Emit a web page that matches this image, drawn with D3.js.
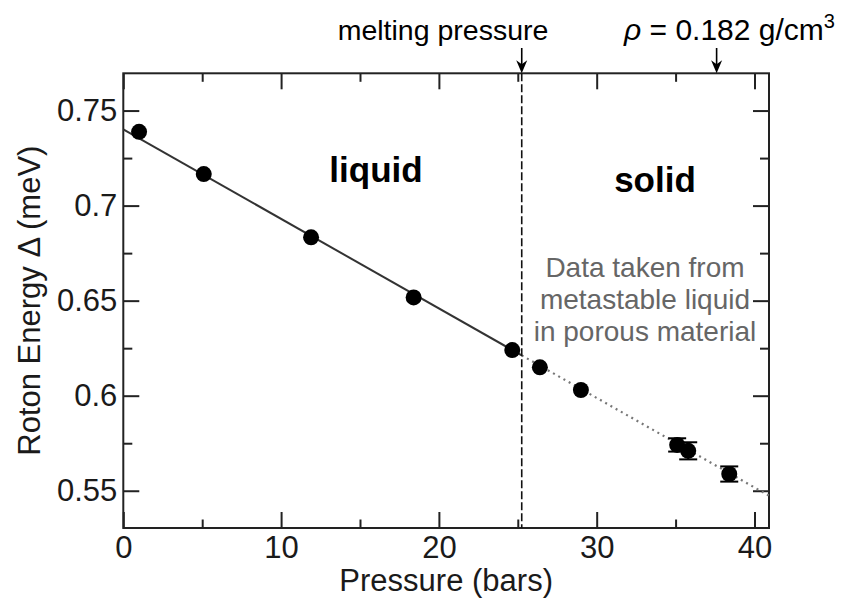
<!DOCTYPE html>
<html>
<head>
<meta charset="utf-8">
<script src="https://d3js.org/d3.v7.min.js"></script>
<style>
  body { margin: 0; background: #fff; }
  text { font-family: "Liberation Sans", Arial, Helvetica, sans-serif; }
</style>
</head>
<body>
<script>
// measured points: pressure (bars) vs roton energy (meV)
const pressure  = [1.0, 5.1, 11.9, 18.4, 24.65, 26.4, 29.0, 35.1, 35.8, 38.4];
const energy    = [0.7388, 0.7166, 0.6833, 0.6517, 0.624, 0.6149, 0.603, 0.5741, 0.571, 0.5588];
const energyErr = [0, 0, 0, 0, 0, 0, 0, 0.0035, 0.0045, 0.004];

// linear fit, solid in liquid range, dotted past melting
const liquidFitP = [0, 25.25];
const liquidFitE = [0.7401, 0.6212];
const metaFitP   = [25.25, 40.92];
const metaFitE   = [0.6212, 0.5474];

const meltingP = 25.25;
const densityP = 37.6;

const xMajor = [0, 10, 20, 30, 40];
const xMinor = [5, 15, 25, 35];
const yMajor = [0.55, 0.6, 0.65, 0.7, 0.75];
const yMinor = [0.575, 0.625, 0.675, 0.725];

const W = 846, H = 598;
const mLeft = 123.3, mRight = 769, mTop = 73.3, mBottom = 528;

const svg = d3.select('body').append('svg')
    .attr('width', W)
    .attr('height', H);

const x = d3.scaleLinear().domain([0, 40.92]).range([mLeft, mRight]);
const y = d3.scaleLinear().domain([0.5304, 0.7696]).range([mBottom, mTop]);

const fmt = d => String(+d.toFixed(3));

function axis(gen, ticks, size, labels, pad, tx, ty) {
    let g = svg.append('g')
        .attr('transform', `translate(${tx},${ty})`)
        .call(gen.tickValues(ticks).tickSize(-size)
            .tickPadding(pad)
            .tickFormat(labels ? fmt : ''));
    g.select('.domain').remove();
    g.selectAll('line').attr('stroke', '#222').attr('stroke-width', 2);
    g.attr('font-size', 31).attr('font-family', '"Liberation Sans", Arial, sans-serif');
    g.selectAll('text').attr('fill', '#1a1a1a');
    return g;
}

// bottom / top (ticks point inward)
axis(d3.axisBottom(x), xMajor, 16, true, 8, 0, mBottom);
axis(d3.axisBottom(x), xMinor, 8.5, false, 0, 0, mBottom);
axis(d3.axisTop(x), xMajor, 16, false, 0, 0, mTop);
axis(d3.axisTop(x), xMinor, 8.5, false, 0, 0, mTop);
// left / right
axis(d3.axisLeft(y), yMajor, 16, true, 6, mLeft, 0);
axis(d3.axisLeft(y), yMinor, 9, false, 0, mLeft, 0);
axis(d3.axisRight(y), yMajor, 16, false, 0, mRight, 0);
axis(d3.axisRight(y), yMinor, 9, false, 0, mRight, 0);

// frame
svg.append('rect')
    .attr('x', mLeft).attr('y', mTop)
    .attr('width', mRight - mLeft).attr('height', mBottom - mTop)
    .attr('fill', 'none').attr('stroke', '#222').attr('stroke-width', 2);

// fit lines
const line = d3.line().x(d => x(d[0])).y(d => y(d[1]));
svg.append('path')
    .datum(d3.zip(liquidFitP, liquidFitE))
    .attr('d', line)
    .attr('fill', 'none').attr('stroke', '#333').attr('stroke-width', 2);
svg.append('path')
    .datum(d3.zip(metaFitP, metaFitE))
    .attr('d', line)
    .attr('fill', 'none').attr('stroke', '#777').attr('stroke-width', 2.2)
    .attr('stroke-dasharray', '2,4');

// melting pressure
svg.append('line')
    .attr('x1', x(meltingP)).attr('x2', x(meltingP))
    .attr('y1', mTop).attr('y2', mBottom)
    .attr('stroke', '#111').attr('stroke-width', 1.6)
    .attr('stroke-dasharray', '8,3');

// error bars
const pts = d3.range(pressure.length).map(i => ({p: pressure[i], e: energy[i], err: energyErr[i]}));
const eb = svg.append('g').attr('stroke', '#000').attr('stroke-width', 2);
pts.filter(d => d.err > 0).forEach(d => {
    eb.append('line').attr('x1', x(d.p)).attr('x2', x(d.p))
        .attr('y1', y(d.e - d.err)).attr('y2', y(d.e + d.err));
    [d.e - d.err, d.e + d.err].forEach(v => {
        eb.append('line').attr('x1', x(d.p) - 9).attr('x2', x(d.p) + 9)
            .attr('y1', y(v)).attr('y2', y(v));
    });
});

svg.selectAll('circle.pt')
    .data(pts)
    .join('circle')
    .attr('class', 'pt')
    .attr('cx', d => x(d.p))
    .attr('cy', d => y(d.e))
    .attr('r', 8)
    .attr('fill', '#000');

// axis titles
svg.append('text')
    .attr('x', (mLeft + mRight) / 2).attr('y', 591)
    .attr('text-anchor', 'middle')
    .attr('font-size', 31).attr('fill', '#1a1a1a')
    .text('Pressure (bars)');
svg.append('text')
    .attr('transform', `translate(40,${(mTop + mBottom) / 2}) rotate(-90)`)
    .attr('text-anchor', 'middle')
    .attr('font-size', 31).attr('fill', '#1a1a1a')
    .text('Roton Energy \u0394 (meV)');

// region labels
svg.append('text')
    .attr('x', 376).attr('y', 182)
    .attr('text-anchor', 'middle').attr('font-weight', 'bold')
    .attr('font-size', 35).attr('fill', '#000')
    .text('liquid');
svg.append('text')
    .attr('x', 655).attr('y', 192)
    .attr('text-anchor', 'middle').attr('font-weight', 'bold')
    .attr('font-size', 35).attr('fill', '#000')
    .text('solid');

const note = ['Data taken from', 'metastable liquid', 'in porous material'];
svg.append('g').selectAll('text')
    .data(note)
    .join('text')
    .attr('x', 645)
    .attr('y', (d, i) => 277 + i * 32)
    .attr('text-anchor', 'middle')
    .attr('font-size', 28).attr('fill', '#666')
    .text(d => d);

// top annotations with arrows
function arrow(px) {
    const cx = x(px);
    svg.append('line')
        .attr('x1', cx).attr('x2', cx)
        .attr('y1', 48).attr('y2', mTop - 4)
        .attr('stroke', '#000').attr('stroke-width', 1.6);
    svg.append('path')
        .attr('d', `M${cx},${mTop} L${cx - 5.5},${mTop - 13} L${cx},${mTop - 9} L${cx + 5.5},${mTop - 13} Z`)
        .attr('fill', '#000');
}
arrow(meltingP);
arrow(densityP);

svg.append('text')
    .attr('x', 443).attr('y', 40)
    .attr('text-anchor', 'middle')
    .attr('font-size', 28.5).attr('fill', '#000')
    .text('melting pressure');

const rho = svg.append('text')
    .attr('x', 624).attr('y', 40)
    .attr('font-size', 30).attr('fill', '#000');
rho.append('tspan').attr('font-style', 'italic').text('\u03c1');
rho.append('tspan').text(' = 0.182 g/cm');
rho.append('tspan').attr('font-size', 20).attr('dy', -12).text('3');
</script>
</body>
</html>
